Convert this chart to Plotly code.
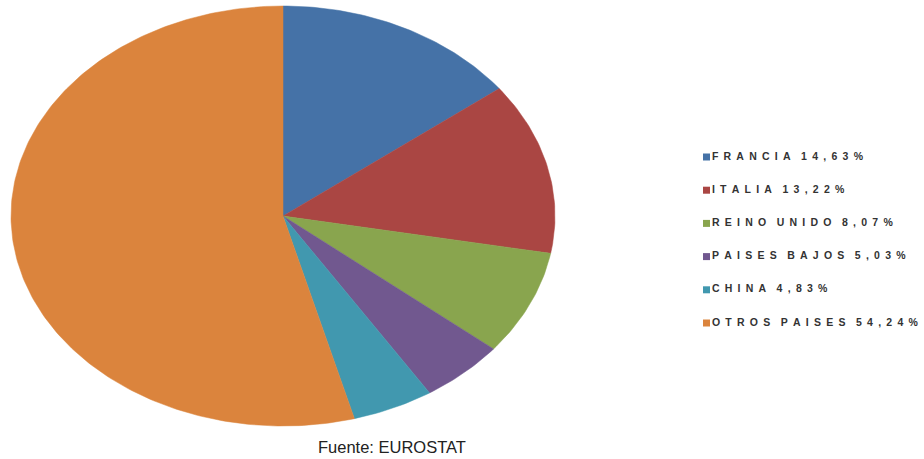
import numpy as np
import plotly.graph_objects as go

# Share of exports by destination country (%)
paises = ["FRANCIA", "ITALIA", "REINO UNIDO", "PAISES BAJOS", "CHINA", "OTROS PAISES"]
porcentajes = [14.63, 13.22, 8.07, 5.03, 4.83, 54.24]
colores = ["#4572A7", "#AA4643", "#89A54E", "#71588F", "#4198AF", "#DB843D"]
fuente = "Fuente: EUROSTAT"

W, H = 924, 459
# Elliptical pie geometry in pixel units
CX, CY, RX, RY = 283, 216, 272, 210

# Legend layout
LEG_X, LEG_Y0, LEG_DY = 706.5, 157, 33.2


def espaciar(texto):
    # Letter-spaced label: en-space between letters, wider gap between words
    palabras = texto.split(" ")
    return "\u2002\u2002".join("\u2002".join(p) for p in palabras)


fig = go.Figure()

total = sum(porcentajes)
inicio = 0.0
for nombre, valor, color in zip(paises, porcentajes, colores):
    fin = inicio + valor / total
    n = max(int((fin - inicio) * 400), 4)
    t = np.linspace(inicio, fin, n) * 2 * np.pi
    xs = np.concatenate([[CX], CX + RX * np.sin(t), [CX]])
    ys = np.concatenate([[CY], CY - RY * np.cos(t), [CY]])
    fig.add_trace(go.Scatter(
        x=xs, y=ys, mode="lines", fill="toself",
        fillcolor=color, line=dict(color=color, width=0.5),
        name=nombre, showlegend=False, hoverinfo="name",
    ))
    inicio = fin

# Legend: square swatches with letter-spaced labels
etiquetas = [espaciar(f"{p} {v:.2f}%".replace(".", ",")) for p, v in zip(paises, porcentajes)]
fig.add_trace(go.Scatter(
    x=[LEG_X] * len(paises),
    y=[LEG_Y0 + i * LEG_DY for i in range(len(paises))],
    mode="markers+text",
    marker=dict(symbol="square", size=7, color=colores),
    text=etiquetas,
    textposition="middle right",
    textfont=dict(family="Liberation Sans, Arial, sans-serif", size=10.5,
                  color="#333333", weight="bold"),
    showlegend=False, hoverinfo="skip",
))

fig.add_annotation(
    x=392, y=447, xref="x", yref="y", text=fuente, showarrow=False,
    font=dict(family="Liberation Sans, Arial, sans-serif", size=16.5, color="#222222"),
    xanchor="center", yanchor="middle",
)

fig.update_xaxes(range=[0, W], visible=False, fixedrange=True)
fig.update_yaxes(range=[H, 0], visible=False, fixedrange=True)
fig.update_layout(
    width=W, height=H,
    margin=dict(l=0, r=0, t=0, b=0),
    paper_bgcolor="white", plot_bgcolor="white",
    showlegend=False,
)

fig.write_html("out.html")
